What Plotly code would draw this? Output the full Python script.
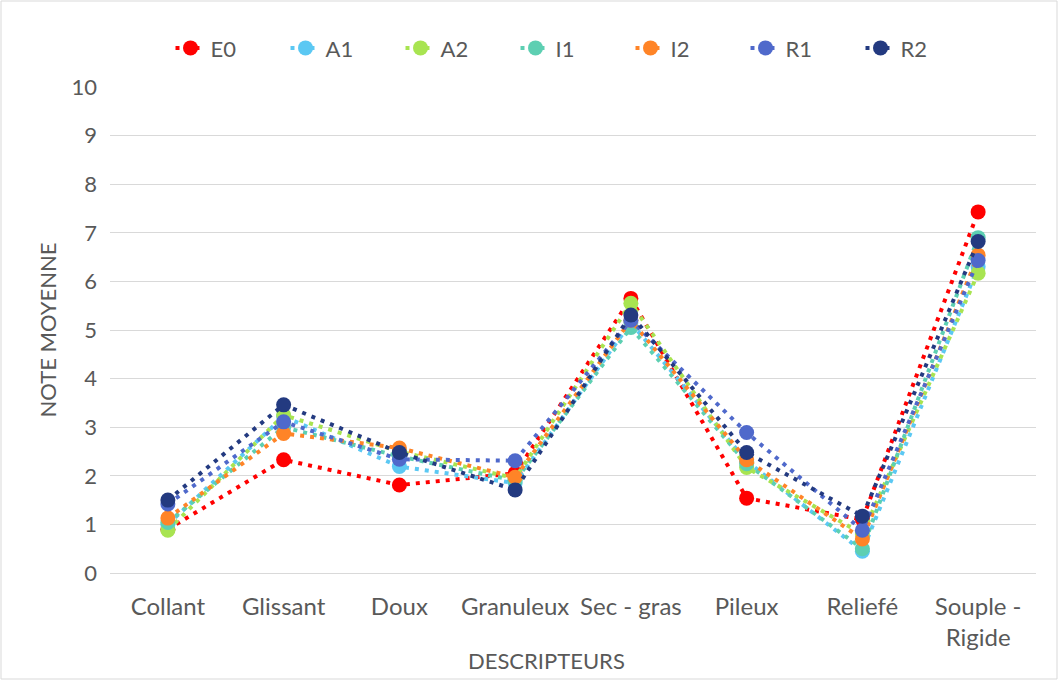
import plotly.graph_objects as go

# Sensory descriptors (x categories) and their display labels
descripteurs = ["Collant", "Glissant", "Doux", "Granuleux", "Sec - gras",
                "Pileux", "Reliefé", "Souple - Rigide"]
etiquettes = ["Collant", "Glissant", "Doux", "Granuleux", "Sec - gras",
              "Pileux", "Reliefé", "Souple -<br>Rigide"]

# Mean scores per product
E0 = [0.90, 2.33, 1.81, 2.05, 5.65, 1.54, 1.10, 7.43]
A1 = [1.00, 3.22, 2.19, 1.85, 5.15, 2.30, 0.45, 6.30]
A2 = [0.88, 3.25, 2.50, 1.95, 5.55, 2.17, 0.80, 6.17]
I1 = [1.04, 3.00, 2.40, 1.90, 5.05, 2.25, 0.50, 6.90]
I2 = [1.13, 2.87, 2.57, 1.97, 5.20, 2.33, 0.70, 6.54]
R1 = [1.42, 3.11, 2.34, 2.31, 5.20, 2.89, 0.88, 6.43]
R2 = [1.50, 3.46, 2.48, 1.71, 5.31, 2.48, 1.17, 6.82]

series = [
    ("E0", E0, "#FF0000"),
    ("A1", A1, "#5BC8F3"),
    ("A2", A2, "#A8E451"),
    ("I1", I1, "#5DCFB2"),
    ("I2", I2, "#FF8427"),
    ("R1", R1, "#4F69CB"),
    ("R2", R2, "#233A80"),
]

FONT = "Lato, Calibri, Carlito, sans-serif"
GREY = "#595959"

fig = go.Figure()
for name, vals, color in series:
    fig.add_trace(go.Scatter(
        x=descripteurs, y=vals, name=name, mode="lines+markers",
        line=dict(color=color, width=4, dash="4px,6px"),
        marker=dict(color=color, size=15, symbol="circle"),
    ))

fig.update_layout(
    width=1059, height=682,
    margin=dict(l=110, r=23, t=87, b=109),
    paper_bgcolor="white", plot_bgcolor="white",
    font=dict(family=FONT, color=GREY, size=21),
    showlegend=True,
    legend=dict(orientation="h", x=0.5, xanchor="center", y=1.08, yanchor="middle",
                font=dict(size=22, color=GREY),
                entrywidth=70, entrywidthmode="pixels",
                bgcolor="rgba(0,0,0,0)"),
    xaxis=dict(
        type="category", range=[-0.5, 7.5],
        tickmode="array", tickvals=descripteurs, ticktext=etiquettes,
        showgrid=False, showline=True, linecolor="#D9D9D9", linewidth=1,
        ticks="", ticklabelstandoff=12,
        tickfont=dict(size=24, color=GREY),
    ),
    yaxis=dict(
        range=[0, 10], dtick=1, tick0=0,
        showgrid=True, gridcolor="#D9D9D9", gridwidth=1,
        zeroline=False, showline=False, ticks="",
        ticklabelstandoff=12,
        tickfont=dict(size=22, color=GREY),
        title=dict(text="NOTE MOYENNE", font=dict(size=22, color=GREY), standoff=8),
    ),
    annotations=[dict(
        text="DESCRIPTEURS", xref="paper", yref="paper",
        x=(546 - 110) / 926, y=-(660 - 573) / 486, xanchor="center", yanchor="middle",
        showarrow=False, font=dict(size=22, color=GREY),
    )],
    shapes=[dict(
        type="rect", xref="paper", yref="paper",
        x0=-109 / 926, x1=1 + 21 / 926, y0=-106 / 486, y1=1 + 86 / 486,
        line=dict(color="#D9D9D9", width=1), fillcolor="rgba(0,0,0,0)", layer="below",
    )],
)

fig.write_html("out.html")
